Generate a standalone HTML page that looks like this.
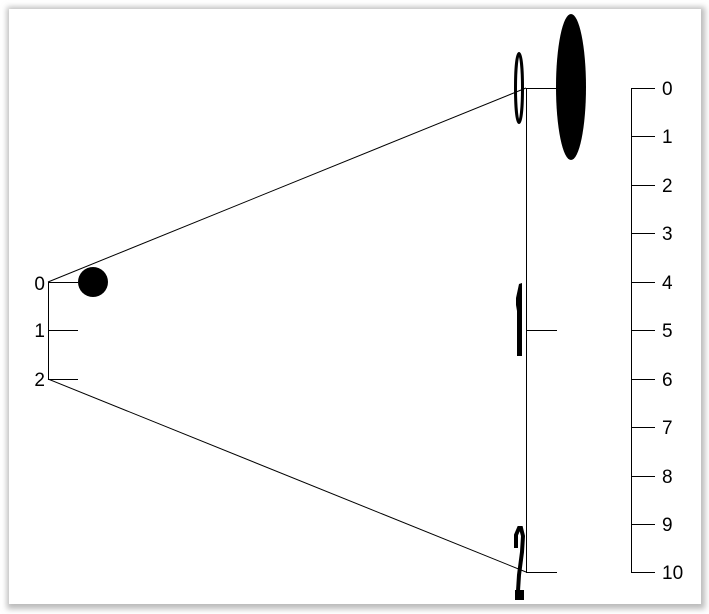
<!DOCTYPE html>
<html><head><meta charset="utf-8"><style>
html,body{margin:0;padding:0;background:#fff;}
svg{display:block;}
text{font-family:"Liberation Sans",Arial,sans-serif;font-size:19px;fill:#000;}
</style></head><body>
<svg width="709" height="614" viewBox="0 0 709 614" xmlns="http://www.w3.org/2000/svg">
<defs>
<filter id="sh" x="-5%" y="-5%" width="110%" height="110%"><feGaussianBlur stdDeviation="3"/></filter>
</defs>
<rect x="0" y="0" width="709" height="614" fill="#fff"/>
<rect x="7" y="7" width="698" height="602" fill="#bbb" filter="url(#sh)"/>
<rect x="9" y="9" width="692" height="595" fill="#fff"/>
<g stroke="#000" stroke-width="1" fill="none">
<line x1="48.5" y1="282" x2="48.5" y2="379"/>
<line x1="48" y1="282.5" x2="78" y2="282.5"/>
<line x1="48" y1="330.5" x2="78" y2="330.5"/>
<line x1="48" y1="379.5" x2="78" y2="379.5"/>
<line x1="526.5" y1="88" x2="526.5" y2="572"/>
<line x1="526" y1="88.5" x2="557" y2="88.5"/>
<line x1="526" y1="330.5" x2="557" y2="330.5"/>
<line x1="526" y1="572.5" x2="557" y2="572.5"/>
<line x1="631.5" y1="88" x2="631.5" y2="572"/>
<line x1="631" y1="88.5" x2="655" y2="88.5"/>
<line x1="631" y1="136.5" x2="655" y2="136.5"/>
<line x1="631" y1="185.5" x2="655" y2="185.5"/>
<line x1="631" y1="233.5" x2="655" y2="233.5"/>
<line x1="631" y1="282.5" x2="655" y2="282.5"/>
<line x1="631" y1="330.5" x2="655" y2="330.5"/>
<line x1="631" y1="379.5" x2="655" y2="379.5"/>
<line x1="631" y1="427.5" x2="655" y2="427.5"/>
<line x1="631" y1="476.5" x2="655" y2="476.5"/>
<line x1="631" y1="524.5" x2="655" y2="524.5"/>
<line x1="631" y1="572.5" x2="655" y2="572.5"/>
<line x1="48" y1="282" x2="526" y2="88"/>
<line x1="48" y1="379" x2="526" y2="572"/>
</g>
<circle cx="93" cy="282" r="15" fill="#000"/>
<ellipse cx="571" cy="87" rx="15" ry="73" fill="#000"/>
<ellipse cx="519" cy="88" rx="3.5" ry="34.5" fill="none" stroke="#000" stroke-width="3"/>
<!-- stretched 1 -->
<path d="M517 356 L517 305 L516 311 L516 298 L519 284 L522 283 L522 356 Z" fill="#000"/>
<!-- stretched 2 -->
<path d="M516 548 L516 535 L519 528 L521 528 L523 536 L522 552 L519 575 L518 591" fill="none" stroke="#000" stroke-width="4"/>
<rect x="515" y="590" width="9" height="10" fill="#000"/>
<g text-anchor="end">
<text x="45" y="290">0</text>
<text x="45" y="337">1</text>
<text x="45" y="386">2</text>
</g>
<g>
<text x="662" y="95">0</text>
<text x="662" y="143">1</text>
<text x="662" y="192">2</text>
<text x="662" y="240">3</text>
<text x="662" y="289">4</text>
<text x="662" y="337">5</text>
<text x="662" y="386">6</text>
<text x="662" y="434">7</text>
<text x="662" y="483">8</text>
<text x="662" y="531">9</text>
<text x="662" y="579">10</text>
</g>
</svg>
</body></html>
